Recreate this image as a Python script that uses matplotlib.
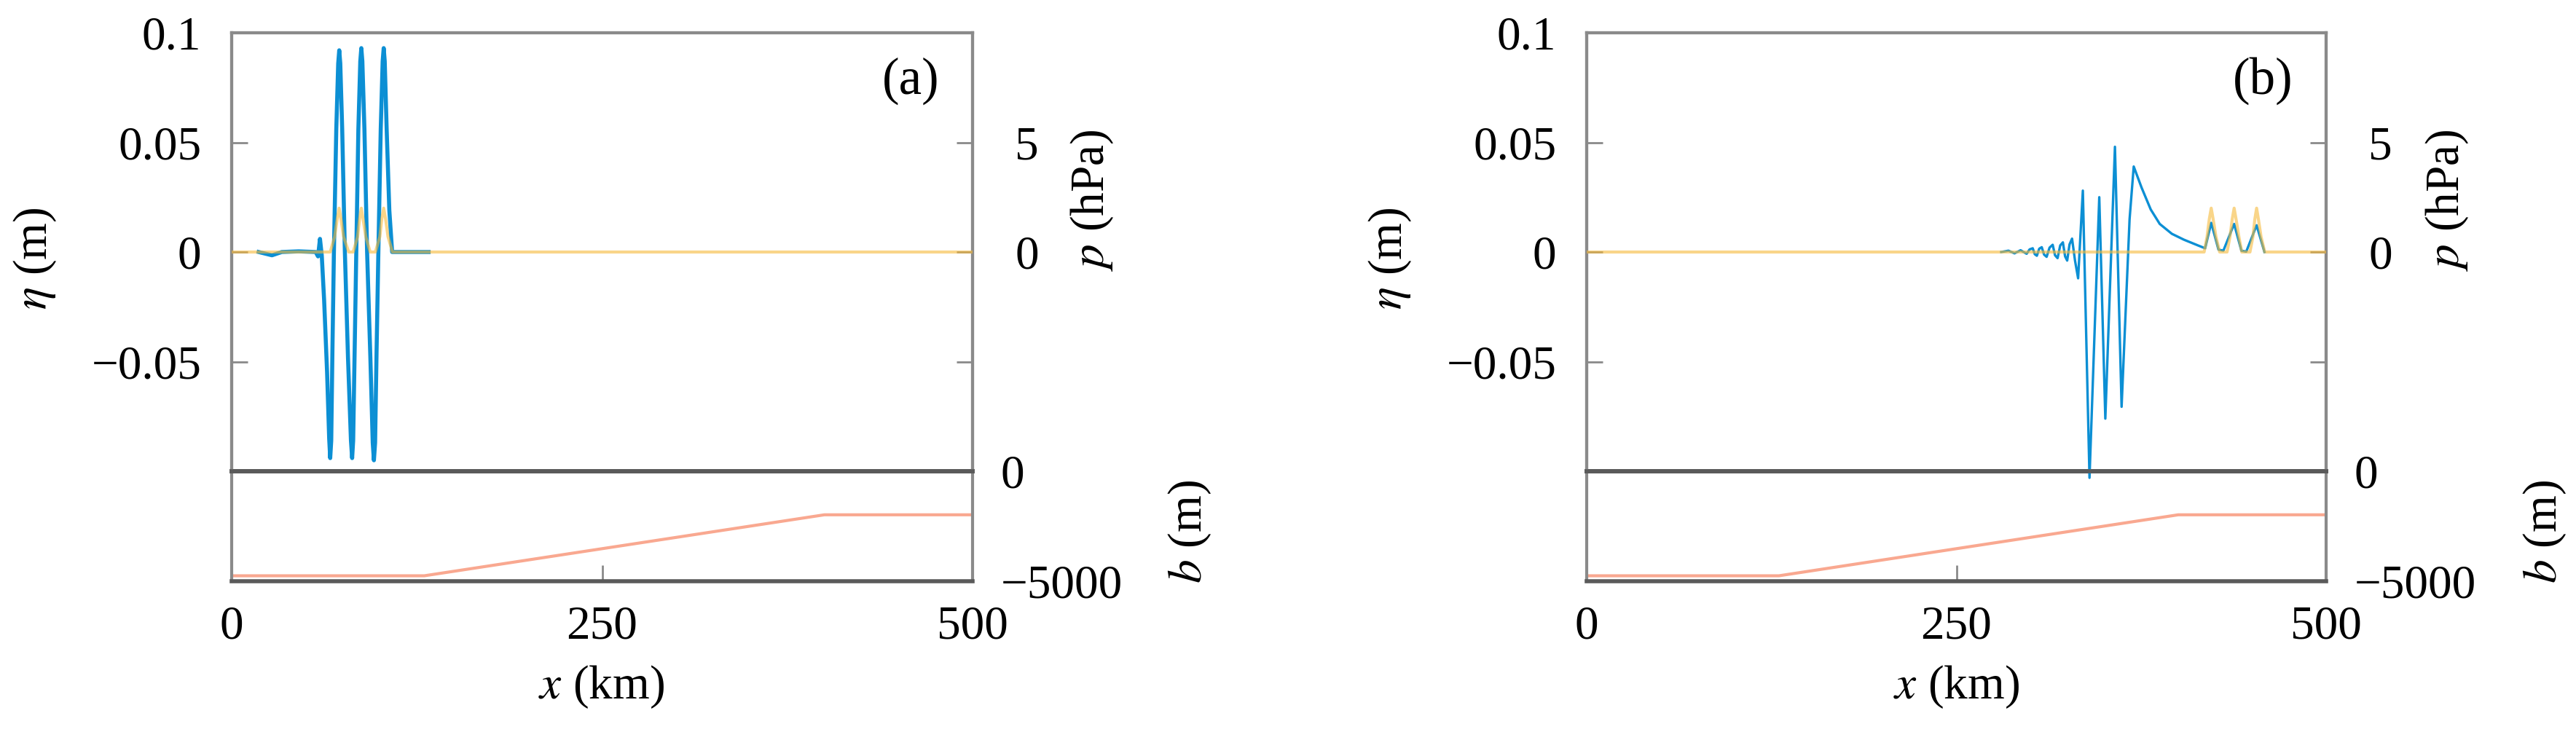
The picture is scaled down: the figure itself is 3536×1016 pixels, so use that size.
import numpy as np
import matplotlib
matplotlib.use('Agg')
import matplotlib.pyplot as plt

plt.rcParams['font.family'] = ['Liberation Serif', 'DejaVu Serif']
plt.rcParams['mathtext.fontset'] = 'stix'

# ---- panel (a): surface elevation eta (m)
xa_eta = [18.2, 27.2, 33.8, 45.2, 56.7, 58.3, 59.6, 60.8, 62.4, 64.4, 65.8, 66.5, 67.2, 68.0,
          69.0, 70.6, 71.9, 72.6, 73.3, 74.6, 76.4, 78.5, 80.5, 81.3, 82.0, 83.0, 84.1, 85.5,
          86.8, 87.5, 88.2, 89.6, 91.4, 93.6, 95.2, 96.0, 96.8, 97.8, 99.0, 100.6, 101.9, 102.6,
          103.3, 104.6, 106.4, 108.3, 115.7, 132.9]
eta_a = [0.0, -0.0015, 0.0, 0.0003, 0.0, -0.002, 0.006, -0.0015, -0.022, -0.055, -0.085, -0.094,
         -0.086, -0.045, 0.0, 0.056, 0.086, 0.092, 0.086, 0.056, 0.0, -0.048, -0.086, -0.094,
         -0.086, -0.045, 0.0, 0.056, 0.087, 0.093, 0.087, 0.056, 0.0, -0.048, -0.087, -0.095,
         -0.087, -0.045, 0.0, 0.056, 0.087, 0.093, 0.087, 0.056, 0.019, 0.0, 0.0, 0.0]

# ---- panel (a): pressure forcing p (hPa)
xa_p = [0, 66.5, 69.5, 71.2, 72.5, 73.8, 75.5, 79.0, 82.0, 85.0, 86.3, 87.5, 88.7, 90.5, 93.5,
        97.0, 100.0, 101.3, 102.6, 103.9, 105.5, 108.5, 500]
p_a = [0, 0, 0.7, 1.5, 2.0, 1.5, 0.7, 0, 0, 0.7, 1.5, 2.0, 1.5, 0.7, 0,
       0, 0.7, 1.5, 2.0, 1.5, 0.7, 0, 0]

# ---- panel (b): surface elevation eta (m)
xb_eta = [280.3, 285.2, 289.3, 293.4, 297.5, 299.5, 301.6, 303.0, 304.4, 306.0, 307.7, 309.3,
          311.0, 313.0, 315.1, 316.7, 318.4, 320.2, 322.0, 323.5, 324.9, 326.5, 328.2, 330.2,
          332.3, 335.5, 340.0, 346.6, 350.7, 357.2, 361.7, 367.1, 369.9, 375.2, 381.4, 387.5,
          395.7, 403.9, 414.1, 418.2, 422.3, 427.2, 430.5, 437.8, 442.7, 446.0, 453.0, 458.3]
eta_b = [0.0, 0.0006, -0.0006, 0.0008, -0.0008, 0.0012, 0.0017, -0.0010, -0.0017, 0.0015, 0.0022,
         -0.0012, -0.0022, 0.0020, 0.0033, -0.0015, -0.0028, 0.0030, 0.0044, -0.0020, -0.0039,
         0.0035, 0.0061, -0.0039, -0.012, 0.028, -0.103, 0.025, -0.076, 0.048, -0.0706, 0.015,
         0.039, 0.0294, 0.0194, 0.0128, 0.0083, 0.0056, 0.0028, 0.0017, 0.0133, 0.0011, 0.0006,
         0.0128, 0.0006, 0.0002, 0.0122, 0.0]

# ---- panel (b): pressure forcing p (hPa)
xb_p = [0, 417.5, 419.5, 421.0, 422.3, 423.6, 425.5, 428.0, 433.0, 435.0, 436.5, 437.8, 439.1,
        441.0, 443.0, 448.5, 450.5, 451.8, 453.0, 454.2, 456.0, 458.5, 500]
p_b = [0, 0, 0.7, 1.5, 2.0, 1.5, 0.7, 0, 0, 0.7, 1.5, 2.0, 1.5,
       0.7, 0, 0, 0.7, 1.5, 2.0, 1.5, 0.7, 0, 0]

# ---- bathymetry b (m), same in both panels
x_bath = [0, 130, 400, 500]
bath = [-4800, -4800, -2000, -2000]

x_ticks = [0, 250, 500]
eta_ticks = [-0.05, 0, 0.05, 0.1]
eta_ticklabels = ['\u22120.05', '0', '0.05', '0.1']

BLUE = '#0c8fd4'
YELLOW = '#f5b93a'
SALMON = '#f9a890'
FRAME = '#8a8a8a'
DIV = '#5a5a5a'

W, H = 3536, 1016
fig = plt.figure(figsize=(W / 100, H / 100), dpi=100)
FS = 47


def fx(px):
    return px / W


def fy(py):
    return 1 - py / H


def panel(left, right, x_eta, eta, x_p, p, tag, eta_lw):
    top, mid, bot = 45, 647, 798
    ax = fig.add_axes([fx(left), fy(mid), fx(right - left), (mid - top) / H])
    axb = fig.add_axes([fx(left), fy(bot), fx(right - left), (bot - mid) / H])
    axp = ax.twinx()

    # eta and pressure
    ax.plot(x_eta, eta, color=BLUE, lw=eta_lw, zorder=3, clip_on=False)
    axp.plot(x_p, p, color=YELLOW, lw=3.0, alpha=0.6, zorder=4)
    ax.set_xlim(0, 500)
    ax.set_ylim(-0.1, 0.1)
    axp.set_ylim(-10, 10)
    ax.set_zorder(axb.get_zorder() + 2)
    axp.set_zorder(ax.get_zorder() + 1)
    ax.patch.set_visible(False)

    ax.set_xticks([])
    ax.set_yticks(eta_ticks)
    ax.set_yticklabels(eta_ticklabels)
    ax.tick_params(axis='y', direction='in', length=16, width=2, color=FRAME,
                   right=True, labelsize=FS, pad=30)
    axp.set_yticks([0, 5])
    axp.tick_params(axis='y', length=0, labelsize=FS, pad=42)
    for a in (ax, axp):
        for s in a.spines.values():
            s.set_color(FRAME)
            s.set_linewidth(3)
        a.spines['bottom'].set_color(DIV)
        a.spines['bottom'].set_linewidth(4)

    # bathymetry
    axb.plot(x_bath, bath, color=SALMON, lw=3)
    axb.set_xlim(0, 500)
    axb.set_ylim(-5050, 0)
    axb.set_xticks(x_ticks)
    axb.set_xticklabels([str(v) for v in x_ticks])
    axb.tick_params(axis='x', direction='in', length=16, width=2, color=FRAME,
                    labelsize=FS, pad=24)
    axb.yaxis.tick_right()
    axb.set_yticks([-5050, 0])
    axb.set_yticklabels(['\u22125000', '0'])
    axb.tick_params(axis='y', length=0, labelsize=FS, pad=28)
    for s in axb.spines.values():
        s.set_color(FRAME)
        s.set_linewidth(3)
    axb.spines['top'].set_color(DIV)
    axb.spines['top'].set_linewidth(4)
    axb.spines['bottom'].set_color(DIV)
    axb.spines['bottom'].set_linewidth(4)

    ax.text(0.955, 0.89, tag, transform=ax.transAxes, ha='right', va='center', fontsize=FS + 4)
    return ax


panel(318, 1335, xa_eta, eta_a, xa_p, p_a, '(a)', 4.0)
panel(2178, 3193, xb_eta, eta_b, xb_p, p_b, '(b)', 2.4)

# axis labels placed where the reference has them
for dx in (0, 1860):
    fig.text(fx(48 + dx), fy(355), r'$\eta$ (m)', rotation=90, ha='center', va='center', fontsize=FS)
    fig.text(fx(1499 + dx), fy(275), r'$p$ (hPa)', rotation=90, ha='center', va='center', fontsize=FS)
    fig.text(fx(1633 + dx), fy(730), r'$b$ (m)', rotation=90, ha='center', va='center', fontsize=FS)
    fig.text(fx(826 + dx), fy(943), r'$x$ (km)', ha='center', va='center', fontsize=FS)

fig.savefig('out.png', dpi=100)
